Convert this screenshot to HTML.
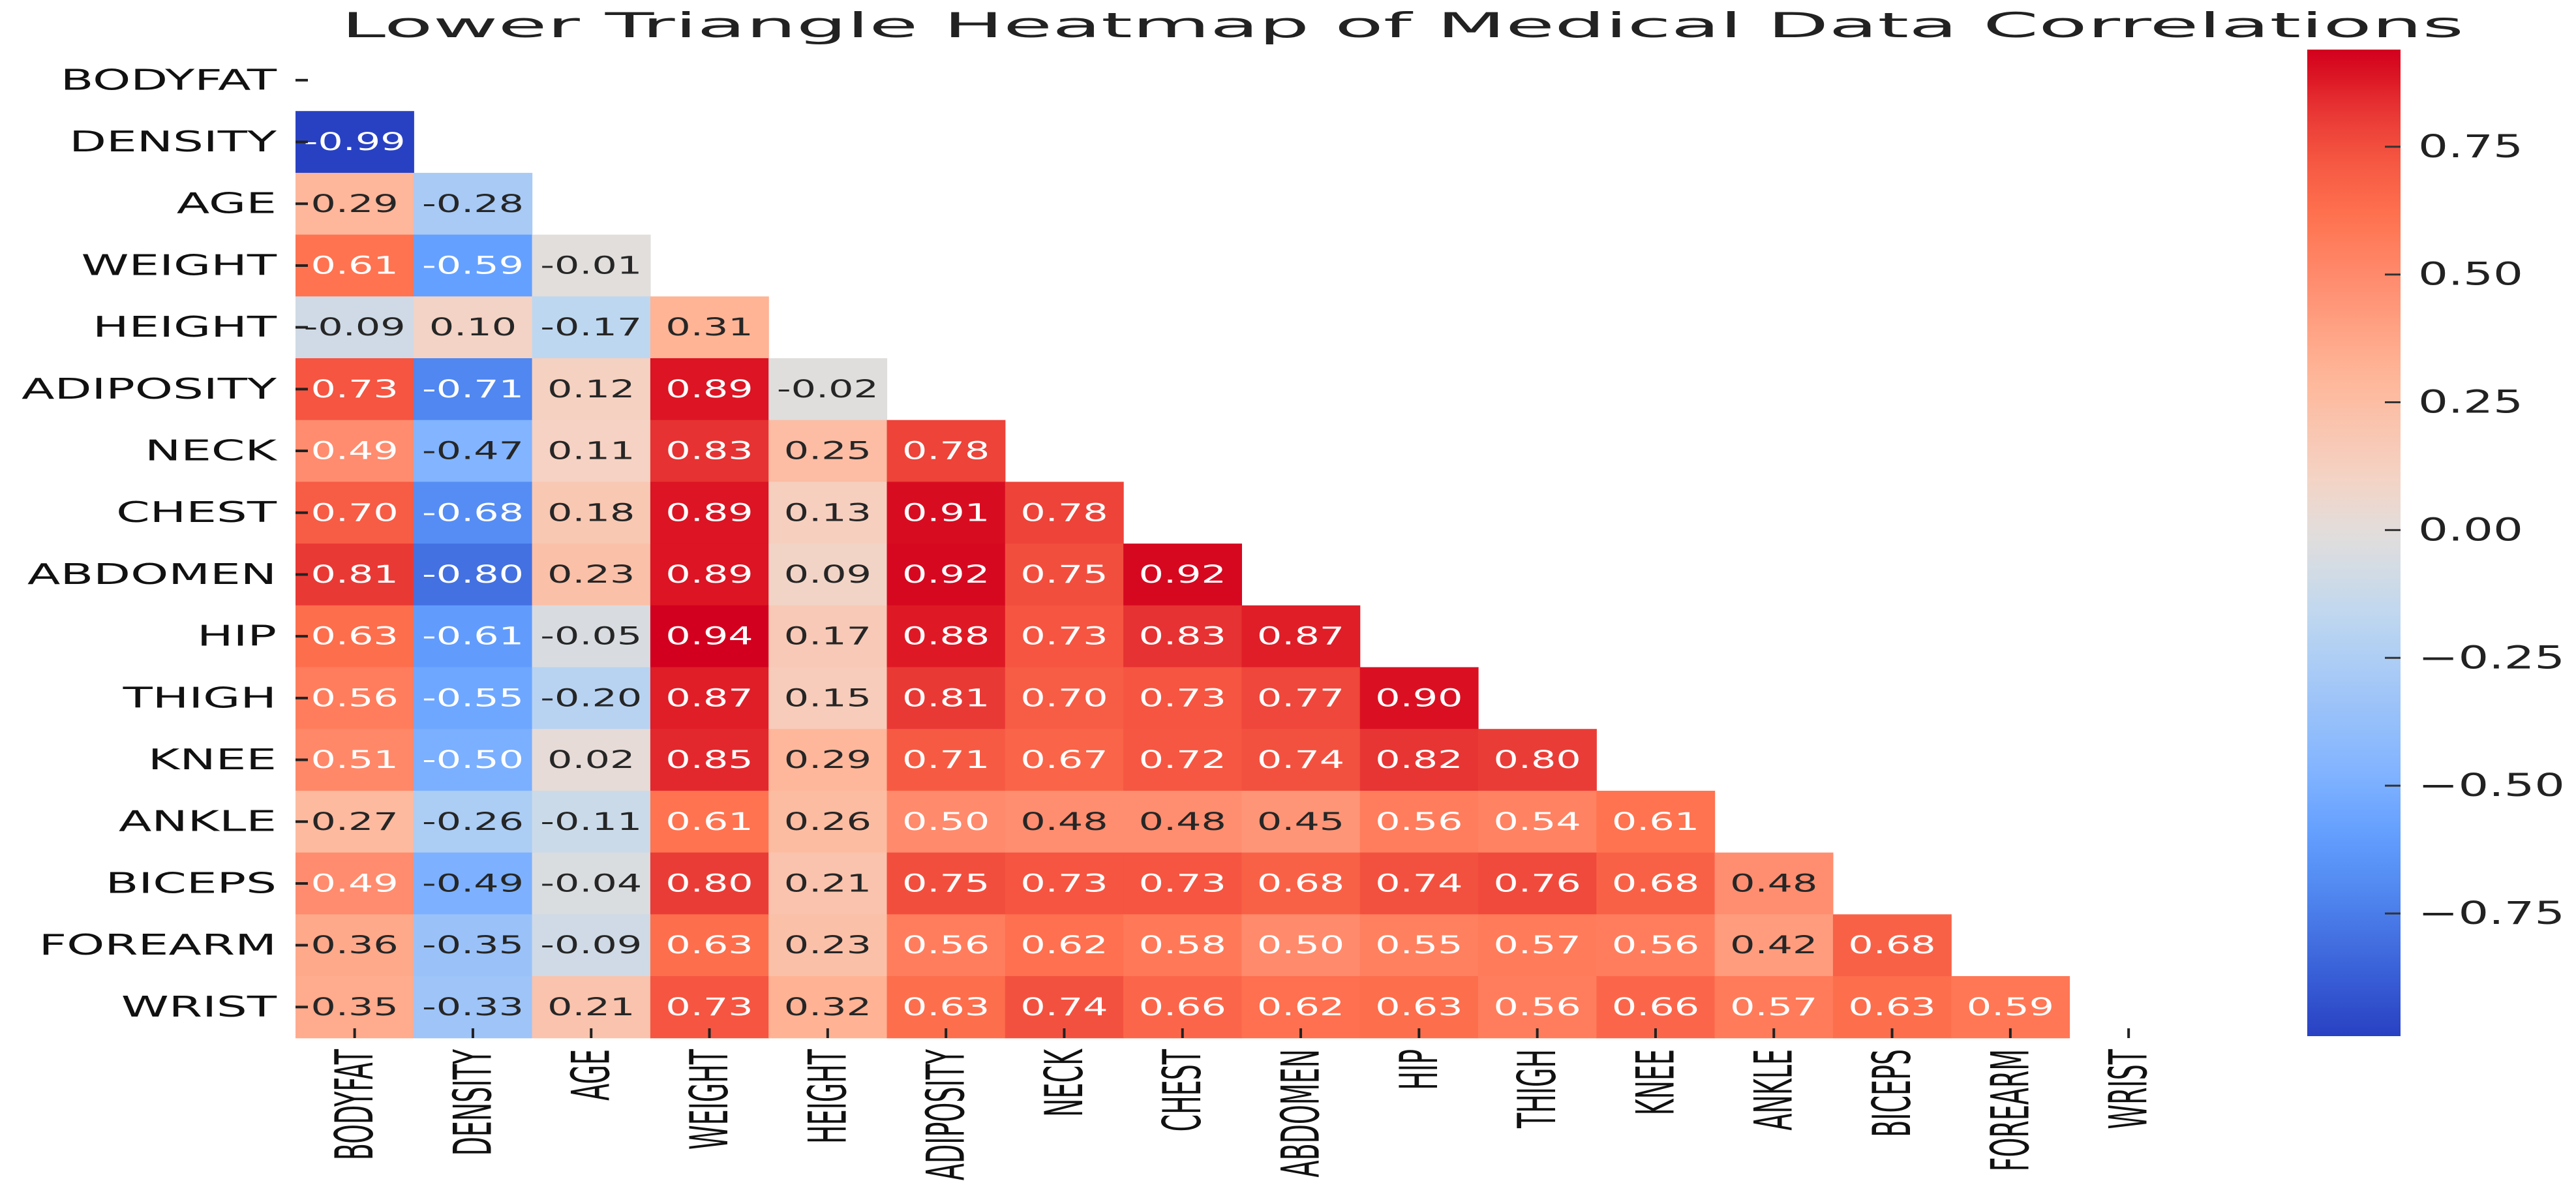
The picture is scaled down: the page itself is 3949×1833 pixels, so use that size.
<!DOCTYPE html>
<html><head><meta charset="utf-8"><style>
html,body{margin:0;padding:0;background:#fff;}
svg{display:block;font-family:"DejaVu Sans","Liberation Sans",sans-serif;}
</style></head><body>
<svg id="chart" width="3949" height="1833" viewBox="0 0 3949 1833" xmlns="http://www.w3.org/2000/svg">
<defs><linearGradient id="cbgrad" x1="0" y1="1" x2="0" y2="0"></linearGradient></defs>
<text x="523" y="57" font-size="53" fill="#222" textLength="3254" lengthAdjust="spacingAndGlyphs">Lower Triangle Heatmap of Medical Data Correlations</text>
<g id="cells"></g>
<g id="ylabels"></g>
<g id="xlabels"></g>
<g id="cbar"></g>
</svg>
<script>
const labels = ["BODYFAT","DENSITY","AGE","WEIGHT","HEIGHT","ADIPOSITY","NECK","CHEST","ABDOMEN","HIP","THIGH","KNEE","ANKLE","BICEPS","FOREARM","WRIST"];
const rowDensity = [-0.99];
const rowAge = [0.29,-0.28];
const rowWeight = [0.61,-0.59,-0.01];
const rowHeight = [-0.09,0.10,-0.17,0.31];
const rowAdiposity = [0.73,-0.71,0.12,0.89,-0.02];
const rowNeck = [0.49,-0.47,0.11,0.83,0.25,0.78];
const rowChest = [0.70,-0.68,0.18,0.89,0.13,0.91,0.78];
const rowAbdomen = [0.81,-0.80,0.23,0.89,0.09,0.92,0.75,0.92];
const rowHip = [0.63,-0.61,-0.05,0.94,0.17,0.88,0.73,0.83,0.87];
const rowThigh = [0.56,-0.55,-0.20,0.87,0.15,0.81,0.70,0.73,0.77,0.90];
const rowKnee = [0.51,-0.50,0.02,0.85,0.29,0.71,0.67,0.72,0.74,0.82,0.80];
const rowAnkle = [0.27,-0.26,-0.11,0.61,0.26,0.50,0.48,0.48,0.45,0.56,0.54,0.61];
const rowBiceps = [0.49,-0.49,-0.04,0.80,0.21,0.75,0.73,0.73,0.68,0.74,0.76,0.68,0.48];
const rowForearm = [0.36,-0.35,-0.09,0.63,0.23,0.56,0.62,0.58,0.50,0.55,0.57,0.56,0.42,0.68];
const rowWrist = [0.35,-0.33,0.21,0.73,0.32,0.63,0.74,0.66,0.62,0.63,0.56,0.66,0.57,0.63,0.59];
const cbTicks = [0.75,0.50,0.25,0.00,-0.25,-0.50,-0.75];
const cbTickLabels = ["0.75","0.50","0.25","0.00","\u22120.25","\u22120.50","\u22120.75"];
const vmin = -0.99, vmax = 0.94;

const rows = [[],rowDensity,rowAge,rowWeight,rowHeight,rowAdiposity,rowNeck,rowChest,rowAbdomen,rowHip,rowThigh,rowKnee,rowAnkle,rowBiceps,rowForearm,rowWrist];
const NS="http://www.w3.org/2000/svg";
const X0=453, CW=181.3, Y0=75.5, RH=94.7;
const xOf=j=>X0+j*CW, yOf=i=>Y0+i*RH;
const CB_TOP=76, CB_BOT=1588, CB_X=3537, CB_W=143;
const cbY=v=>CB_TOP+(vmax-v)/(vmax-vmin)*(CB_BOT-CB_TOP);
const stops=[[0,[40,65,195]],[0.145,[80,135,240]],[0.207,[100,160,255]],[0.269,[130,180,255]],[0.425,[190,215,240]],[0.508,[225,222,220]],[0.570,[245,210,195]],[0.674,[255,180,150]],[0.767,[255,140,110]],[0.829,[255,115,80]],[0.891,[245,85,65]],[0.943,[230,50,50]],[0.974,[220,20,35]],[1,[210,0,30]]];
function cmap(t){t=Math.max(0,Math.min(1,t));for(let k=1;k<stops.length;k++){if(t<=stops[k][0]){const a=stops[k-1],b=stops[k],f=(t-a[0])/(b[0]-a[0]);return a[1].map((c,i)=>c+(b[1][i]-c)*f);}}return stops[stops.length-1][1];}
const rgb=c=>`rgb(${c.map(v=>Math.round(v)).join(",")})`;
function mk(tag,attrs,parent){const e=document.createElementNS(NS,tag);for(const k in attrs)e.setAttribute(k,attrs[k]);parent.appendChild(e);return e;}

const cells=document.getElementById('cells');
rows.forEach((r,i)=>{r.forEach((v,j)=>{
  const c=cmap((v-vmin)/(vmax-vmin));
  const rect=mk('rect',{x:xOf(j),y:yOf(i),width:CW+0.6,height:RH+0.6,fill:rgb(c)},cells);
  
  
  const cx=xOf(j)+CW/2, cy=yOf(i)+RH/2;
  const white = v>=0.485 || v<=-0.495;
  const t=mk('text',{transform:`translate(${cx},${cy}) scale(1.63,1)`,'text-anchor':'middle','dominant-baseline':'central','font-size':37,fill:white?'#fff':'#262626'},cells);
  
  
  t.textContent=v.toFixed(2);
});});

const yl=document.getElementById('ylabels');
labels.forEach((l,i)=>{
  const cy=yOf(i)+RH/2;
  const t=mk('text',{transform:`translate(424,${cy}) scale(1.68,1)`,'text-anchor':'end','dominant-baseline':'central','font-size':44,fill:'#111'},yl);
  
  
  t.textContent=l;
  const tk=mk('line',{x1:453,x2:472,y1:cy,y2:cy,stroke:'#222','stroke-width':4},yl);
  
  
});
const xl=document.getElementById('xlabels');
labels.forEach((l,j)=>{
  const cx=xOf(j)+CW/2;
  const t=mk('text',{transform:`translate(${cx},1608) rotate(-90) scale(1,2.1)`,'text-anchor':'end','dominant-baseline':'central','font-size':38,fill:'#111'},xl);
  
  
  t.textContent=l;
  const tk=mk('line',{x1:cx,x2:cx,y1:1576,y2:1591,stroke:'#222','stroke-width':4},xl);
  
  
});

const grad=document.getElementById('cbgrad');
for(let k=0;k<=60;k++){const t=k/60;mk('stop',{offset:t,'stop-color':rgb(cmap(t))},grad);}
const cb=document.getElementById('cbar');
const bar=mk('rect',{x:CB_X,y:CB_TOP,width:CB_W,height:CB_BOT-CB_TOP,fill:'url(#cbgrad)'},cb);


cbTicks.forEach((v,k)=>{
  const y=cbY(v);
  const tk=mk('line',{x1:CB_X+CB_W-24,x2:CB_X+CB_W,y1:y,y2:y,stroke:'#333','stroke-width':3},cb);
  
  
  const lab=cbTickLabels[k];
  const t=mk('text',{x:3707,y:y,'dominant-baseline':'central','font-size':48,fill:'#222',textLength:lab.length>4?225:161,lengthAdjust:'spacingAndGlyphs'},cb);
  
  
  t.textContent=lab;
});
</script>
</body></html>
